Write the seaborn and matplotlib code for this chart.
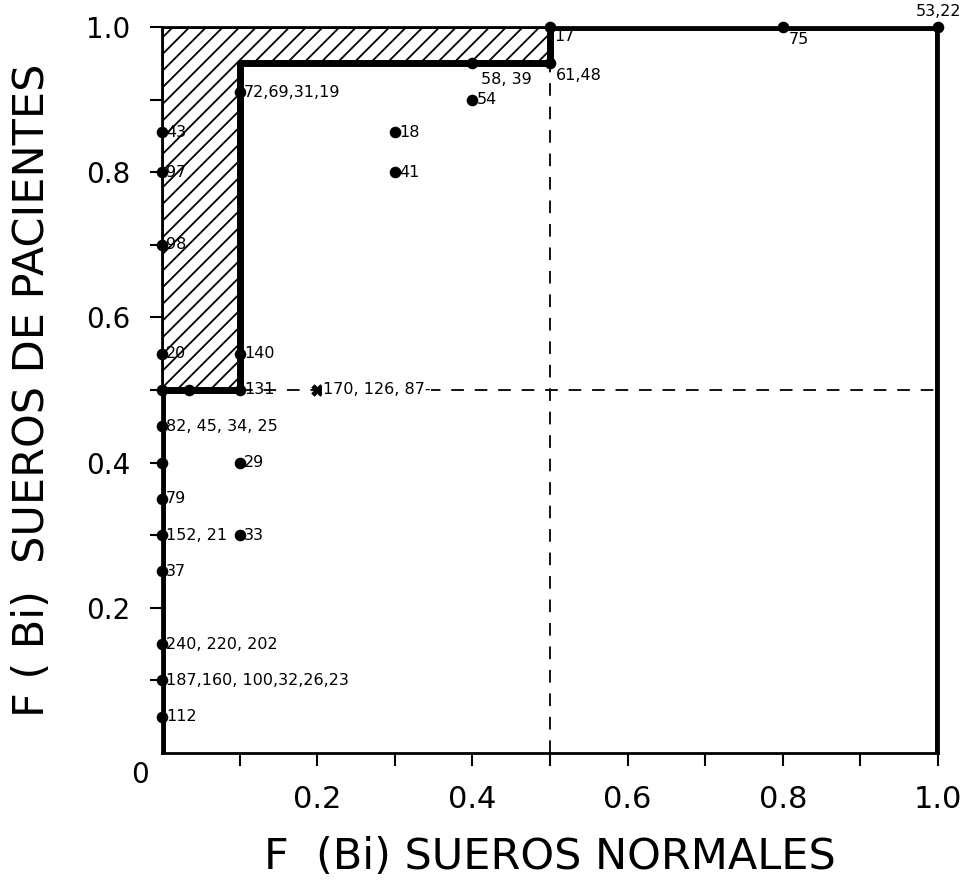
import matplotlib
matplotlib.use("Agg")
import matplotlib.pyplot as plt
import seaborn as sns
import pandas as pd
from matplotlib.patches import Polygon

sns.set_theme(style="white")
plt.rcParams['font.family'] = ['DejaVu Sans']
plt.rcParams['hatch.linewidth'] = 1.3

# Data: points (x = F(Bi) sueros normales, y = F(Bi) sueros de pacientes)
pt_x = [0.5, 1.0, 0.8, 0.5, 0.4, 0.4, 0.3, 0.3, 0.1, 0.0, 0.0, 0.0, 0.0, 0.1, 0.1, 0.0, 0.035,
        0.0, 0.0, 0.1, 0.0, 0.0, 0.1, 0.0, 0.0, 0.0, 0.0]
pt_y = [1.0, 1.0, 1.0, 0.95, 0.95, 0.9, 0.855, 0.8, 0.91, 0.855, 0.8, 0.7, 0.55, 0.55, 0.5, 0.5, 0.5,
        0.45, 0.4, 0.4, 0.35, 0.3, 0.3, 0.25, 0.15, 0.1, 0.05]
pt_label = ["17", "53,22", "75", "61,48", "58, 39", "54", "18", "41", "72,69,31,19", "43", "97", "98",
            "20", "140", "131", "", "", "82, 45, 34, 25", "", "29", "79", "152, 21", "33", "37",
            "240, 220, 202", "187,160, 100,32,26,23", "112"]
# label offsets in points (dx, dy) and horizontal alignment
lab_off = [(3, -7), (0, 11), (4, -9), (4, -9), (6, -12), (3, 0), (3, 0), (3, 0), (3, 0), (3, 0), (3, 0),
           (3, 0), (3, 0), (3, 0), (3, 0), (0, 0), (0, 0), (3, 0), (0, 0), (3, 0), (3, 0), (3, 0), (3, 0),
           (3, 0), (3, 0), (3, 0), (3, 0)]
lab_ha = ['left', 'center'] + ['left'] * 25

cross_x = [0.2]
cross_y = [0.5]
cross_label = ["170, 126, 87-"]

# ROC-like staircase
step_x = [0.0, 0.0, 0.1, 0.1, 0.5, 0.5, 1.0, 1.0]
step_y = [0.0, 0.5, 0.5, 0.95, 0.95, 1.0, 1.0, 0.0]

# hatched region between x=0 and staircase
hatch_x = [0.0, 0.1, 0.1, 0.5, 0.5, 0.0]
hatch_y = [0.5, 0.5, 0.95, 0.95, 1.0, 1.0]

xtick_vals = [0.2, 0.4, 0.6, 0.8, 1.0]
xtick_labels = ["0.2", "0.4", "0.6", "0.8", "1.0"]
ytick_vals = [0.2, 0.4, 0.6, 0.8, 1.0]
ytick_labels = ["0.2", "0.4", "0.6", "0.8", "1.0"]
minor_ticks = [0.1, 0.3, 0.5, 0.7, 0.9]

fig = plt.figure(figsize=(9.72, 8.84), dpi=100)
ax = fig.add_axes([0.1667, 0.1482, 0.7984, 0.8213])
ax.set_xlim(0, 1)
ax.set_ylim(0, 1)

# hatched region
poly = Polygon(list(zip(hatch_x, hatch_y)), closed=True, facecolor='none',
               edgecolor='black', hatch='//', linewidth=2.0, zorder=1)
ax.add_patch(poly)

# dashed reference lines
ax.plot([0.1, 1.0], [0.5, 0.5], color='black', lw=1.3, dashes=(7, 6), zorder=2)
ax.plot([0.5, 0.5], [0.0, 0.95], color='black', lw=1.3, dashes=(7, 6), zorder=2)

# staircase
steps = pd.DataFrame({"x": step_x, "y": step_y})
sns.lineplot(data=steps, x="x", y="y", sort=False, estimator=None, color='black',
             lw=5, ax=ax, zorder=3)

pts = pd.DataFrame({"x": pt_x, "y": pt_y})
sns.scatterplot(data=pts, x="x", y="y", color='black', s=70, edgecolor='black',
                linewidth=0, ax=ax, zorder=4, clip_on=False)
crs = pd.DataFrame({"x": cross_x, "y": cross_y})
sns.scatterplot(data=crs, x="x", y="y", color='black', marker='X', s=70,
                edgecolor='black', linewidth=0.5, ax=ax, zorder=4)

for x, y, lab, (dx, dy), ha in zip(pt_x, pt_y, pt_label, lab_off, lab_ha):
    if lab:
        ax.annotate(lab, (x, y), xytext=(dx, dy), textcoords='offset points',
                    ha=ha, va='center', fontsize=11.5, color='black', zorder=5,
                    annotation_clip=False)
for x, y, lab in zip(cross_x, cross_y, cross_label):
    ax.annotate(lab, (x, y), xytext=(4, 0), textcoords='offset points',
                ha='left', va='center', fontsize=11.5, color='black', zorder=5,
                bbox=dict(facecolor='white', edgecolor='none', pad=0.5))

# spines
for s in ax.spines.values():
    s.set_visible(True)
    s.set_color('black')
    s.set_linewidth(2.0)

ax.set_xticks(xtick_vals)
ax.set_xticklabels(xtick_labels)
ax.set_yticks(ytick_vals)
ax.set_yticklabels(ytick_labels)
ax.set_xticks(minor_ticks, minor=True)
ax.set_yticks(minor_ticks, minor=True)
ax.tick_params(axis='both', which='both', direction='out', length=9, width=1.5,
               color='black', bottom=True, left=True, labelcolor='black')
ax.tick_params(axis='x', which='major', labelsize=22, pad=14)
ax.tick_params(axis='y', which='major', labelsize=20, pad=14)
ax.text(-0.028, -0.03, "0", transform=ax.transAxes, ha='center', va='center',
        fontsize=20, color='black')

ax.set_xlabel("F  (Bi) SUEROS NORMALES", fontsize=31, labelpad=16, color='black')
ax.set_ylabel("F ( Bi)  SUEROS DE PACIENTES", fontsize=31, labelpad=24, color='black')
ax.grid(False)

fig.savefig("out.png", dpi=100)
